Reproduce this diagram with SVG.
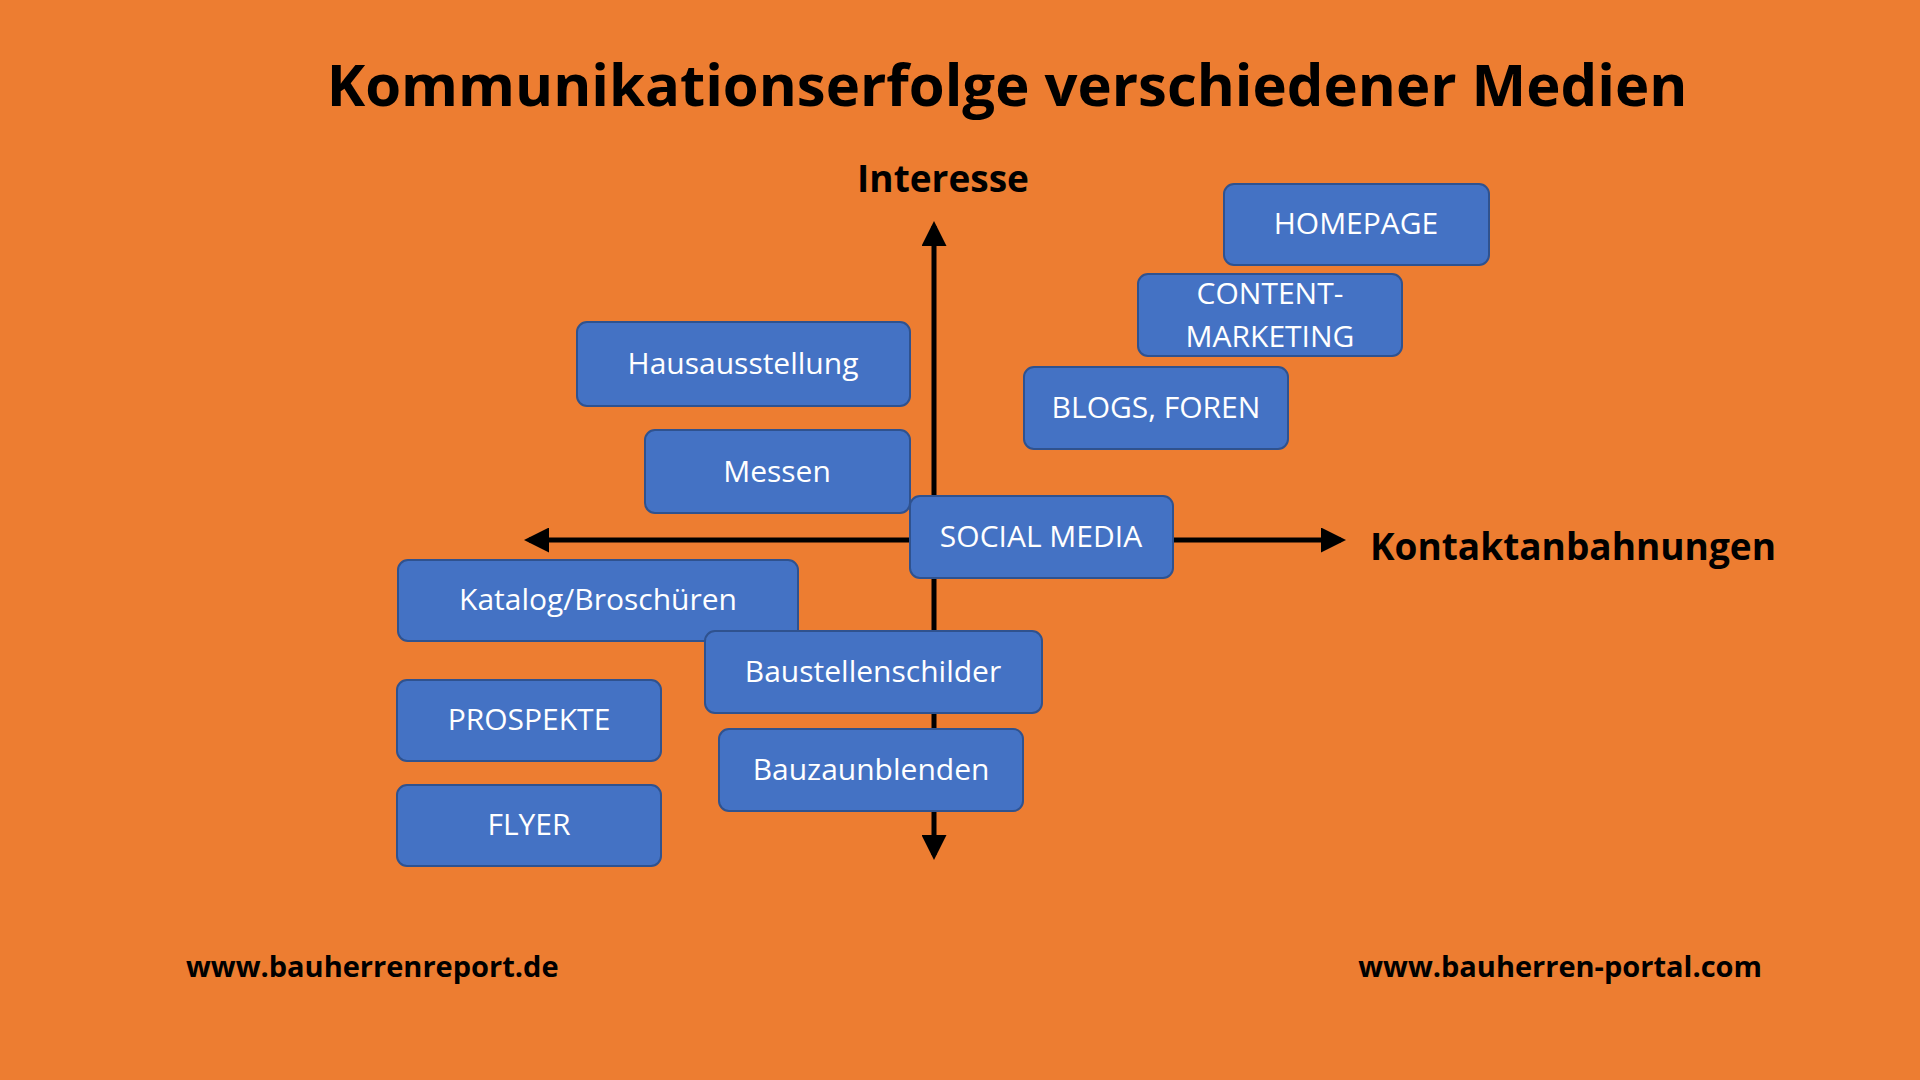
<svg xmlns="http://www.w3.org/2000/svg" width="1920" height="1080" viewBox="0 0 1920 1080">
<style>
.b rect{fill:#4472C4;stroke:#2F528F;stroke-width:2}
.b text{fill:#fff;font-family:"Open Sans","Liberation Sans",sans-serif;font-size:30px;text-anchor:middle}
.h{font-family:"Open Sans","Liberation Sans",sans-serif;font-weight:bold;fill:#000}
</style>
<defs><marker id="a" viewBox="0 0 10 10" refX="8" refY="5" markerWidth="5" markerHeight="5" orient="auto"><path d="M0,0L10,5L0,10z" fill="#000"/></marker></defs>
<rect width="1920" height="1080" fill="#ED7D31"/>
<text class="h" x="1007" y="106" font-size="58" text-anchor="middle">Kommunikationserfolge verschiedener Medien</text>
<text class="h" x="943" y="192" font-size="37" text-anchor="middle">Interesse</text>
<text class="h" x="1370" y="560" font-size="37">Kontaktanbahnungen</text>
<text class="h" x="186" y="977" font-size="29">www.bauherrenreport.de</text>
<text class="h" x="1762" y="977" font-size="29" text-anchor="end">www.bauherren-portal.com</text>
<g id="connectors" stroke="#000" stroke-width="5">
<line x1="934" y1="540" x2="934" y2="226" marker-end="url(#a)"/>
<line x1="934" y1="540" x2="934" y2="855" marker-end="url(#a)"/>
<line x1="934" y1="540" x2="529" y2="540" marker-end="url(#a)"/>
<line x1="934" y1="540" x2="1341" y2="540" marker-end="url(#a)"/>
</g>
<g id="homepage" class="b"><rect x="1224" y="184" width="265" height="81" rx="10"/><text x="1356" y="234">HOMEPAGE</text></g>
<g id="content" class="b"><rect x="1138" y="274" width="264" height="82" rx="10"/><text x="1270" y="304">CONTENT-</text><text x="1270" y="347">MARKETING</text></g>
<g id="blogs" class="b"><rect x="1024" y="367" width="264" height="82" rx="10"/><text x="1156" y="418">BLOGS, FOREN</text></g>
<g id="haus" class="b"><rect x="577" y="322" width="333" height="84" rx="10"/><text x="743" y="374">Hausausstellung</text></g>
<g id="messen" class="b"><rect x="645" y="430" width="265" height="83" rx="10"/><text x="777" y="482">Messen</text></g>
<g id="social" class="b"><rect x="910" y="496" width="263" height="82" rx="10"/><text x="1041" y="547">SOCIAL MEDIA</text></g>
<g id="katalog" class="b"><rect x="398" y="560" width="400" height="81" rx="10"/><text x="598" y="610">Katalog/Broschüren</text></g>
<g id="baustellen" class="b"><rect x="705" y="631" width="337" height="82" rx="10"/><text x="873" y="682">Baustellenschilder</text></g>
<g id="prospekte" class="b"><rect x="397" y="680" width="264" height="81" rx="10"/><text x="529" y="730">PROSPEKTE</text></g>
<g id="bauzaun" class="b"><rect x="719" y="729" width="304" height="82" rx="10"/><text x="871" y="780">Bauzaunblenden</text></g>
<g id="flyer" class="b"><rect x="397" y="785" width="264" height="81" rx="10"/><text x="529" y="835">FLYER</text></g>
</svg>
